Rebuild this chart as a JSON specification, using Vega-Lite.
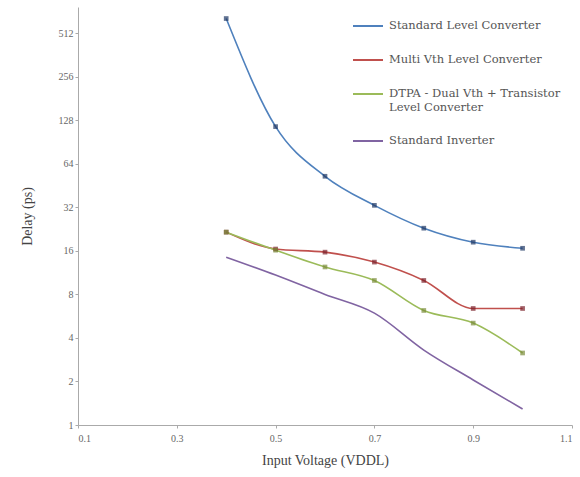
{
  "$schema": "https://vega.github.io/schema/vega-lite/v6.json",
  "autosize": "none",
  "width": 494,
  "height": 418,
  "padding": {"left": 78, "top": 7, "right": 8, "bottom": 52},
  "background": "white",
  "config": {
    "font": "Liberation Serif",
    "view": {"stroke": null},
    "axis": {"grid": false, "domainColor": "#aaaaaa", "tickColor": "#aaaaaa", "labelColor": "#666666", "titleColor": "#444444", "labelFont": "Liberation Serif", "titleFont": "Liberation Serif", "titleFontWeight": "normal"}
  },
  "data": {
    "values": [
      {"series": "Standard Level Converter", "v": 0.4, "delay": 649},
      {"series": "Standard Level Converter", "v": 0.5, "delay": 116},
      {"series": "Standard Level Converter", "v": 0.6, "delay": 52.6},
      {"series": "Standard Level Converter", "v": 0.7, "delay": 33.1},
      {"series": "Standard Level Converter", "v": 0.8, "delay": 23},
      {"series": "Standard Level Converter", "v": 0.9, "delay": 18.4},
      {"series": "Standard Level Converter", "v": 1.0, "delay": 16.7},
      {"series": "Multi Vth Level Converter", "v": 0.4, "delay": 21.6},
      {"series": "Multi Vth Level Converter", "v": 0.5, "delay": 16.5},
      {"series": "Multi Vth Level Converter", "v": 0.6, "delay": 15.7},
      {"series": "Multi Vth Level Converter", "v": 0.7, "delay": 13.4},
      {"series": "Multi Vth Level Converter", "v": 0.8, "delay": 10.0},
      {"series": "Multi Vth Level Converter", "v": 0.9, "delay": 6.4},
      {"series": "Multi Vth Level Converter", "v": 1.0, "delay": 6.4},
      {"series": "DTPA - Dual Vth + Transistor Level Converter", "v": 0.4, "delay": 21.6},
      {"series": "DTPA - Dual Vth + Transistor Level Converter", "v": 0.5, "delay": 16.2},
      {"series": "DTPA - Dual Vth + Transistor Level Converter", "v": 0.6, "delay": 12.4},
      {"series": "DTPA - Dual Vth + Transistor Level Converter", "v": 0.7, "delay": 10.0},
      {"series": "DTPA - Dual Vth + Transistor Level Converter", "v": 0.8, "delay": 6.2},
      {"series": "DTPA - Dual Vth + Transistor Level Converter", "v": 0.9, "delay": 5.07},
      {"series": "DTPA - Dual Vth + Transistor Level Converter", "v": 1.0, "delay": 3.15},
      {"series": "Standard Inverter", "v": 0.4, "delay": 14.5},
      {"series": "Standard Inverter", "v": 0.5, "delay": 10.9},
      {"series": "Standard Inverter", "v": 0.6, "delay": 8.0},
      {"series": "Standard Inverter", "v": 0.7, "delay": 5.94},
      {"series": "Standard Inverter", "v": 0.8, "delay": 3.3},
      {"series": "Standard Inverter", "v": 0.9, "delay": 2.05},
      {"series": "Standard Inverter", "v": 1.0, "delay": 1.29}
    ]
  },
  "encoding": {
    "x": {
      "field": "v", "type": "quantitative",
      "scale": {"domain": [0.1, 1.1], "nice": false},
      "axis": {"values": [0.1, 0.3, 0.5, 0.7, 0.9, 1.1], "format": ".1f", "title": "Input Voltage (VDDL)", "labelFontSize": 10, "titleFontSize": 14, "titlePadding": 10, "labelPadding": 5, "tickSize": 3}
    },
    "y": {
      "field": "delay", "type": "quantitative",
      "scale": {"type": "log", "base": 2, "domain": [1, 780], "nice": false},
      "axis": {"values": [1, 2, 4, 8, 16, 32, 64, 128, 256, 512], "format": "d", "title": "Delay (ps)", "labelFontSize": 10, "titleFontSize": 14, "titlePadding": 24, "labelPadding": 2, "tickSize": 3}
    }
  },
  "layer": [
    {
      "mark": {"type": "line", "interpolate": "monotone", "strokeWidth": 1.6},
      "encoding": {
        "color": {
          "field": "series", "type": "nominal",
          "scale": {
            "domain": ["Standard Level Converter", "Multi Vth Level Converter", "DTPA - Dual Vth + Transistor Level Converter", "Standard Inverter"],
            "range": ["#4F81BD", "#C0504D", "#9BBB59", "#8064A2"]
          },
          "legend": {
            "title": null,
            "orient": "none",
            "legendX": 274,
            "legendY": 3,
            "symbolType": "stroke",
            "symbolSize": 900,
            "symbolStrokeWidth": 2,
            "labelFont": "DejaVu Serif",
            "labelFontSize": 11.5,
            "labelColor": "#555555",
            "labelLimit": 300,
            "rowPadding": 12,
            "labelOffset": 5,
            "labelExpr": "datum.label == 'DTPA - Dual Vth + Transistor Level Converter' ? ['DTPA - Dual Vth + Transistor', 'Level Converter'] : datum.label"
          }
        }
      }
    },
    {
      "transform": [{"filter": "datum.series != 'Standard Inverter'"}],
      "mark": {"type": "point", "shape": "square", "filled": true, "size": 22},
      "encoding": {
        "color": {
          "field": "series", "type": "nominal",
          "scale": {
            "domain": ["Standard Level Converter", "Multi Vth Level Converter", "DTPA - Dual Vth + Transistor Level Converter"],
            "range": ["#1F3864", "#7B1F2A", "#7A8B3A"]
          },
          "legend": null
        }
      }
    }
  ],
  "resolve": {"scale": {"color": "independent"}}
}
